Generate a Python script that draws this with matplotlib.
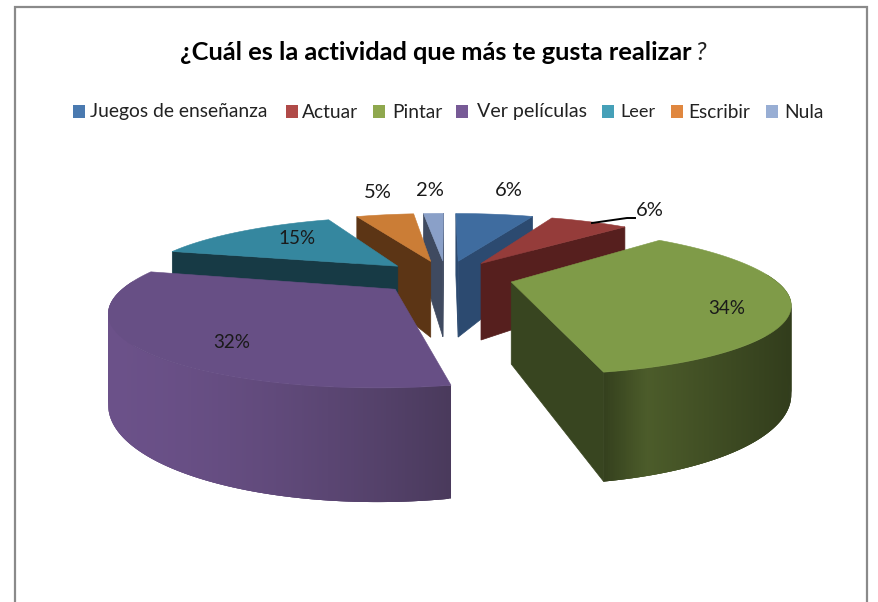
import numpy as np
import matplotlib
matplotlib.use("Agg")
import matplotlib.pyplot as plt
from matplotlib.collections import PolyCollection
from matplotlib.colors import to_rgb

categories = ["Juegos de enseñanza", "Actuar", "Pintar", "Ver películas", "Leer", "Escribir", "Nula"]
values = [6.2, 6.2, 34.4, 32.3, 14.7, 4.6, 1.6]
top_colors = ["#3f6c9f", "#953c3a", "#7f9b48", "#674f85", "#35879f", "#cb7d36", "#8aa0c8"]
cut_colors = ["#2c4a70", "#561f1e", "#384520", "#4a3a5e", "#173a45", "#5c3515", "#3f4a60"]
wall_dark = ["#2c4a70", "#561f1e", "#323d1c", "#4a3a5c", "#173a45", "#5c3515", "#3f4a60"]
wall_light = ["#2c4a70", "#561f1e", "#4c5c2a", "#6b5189", "#173a45", "#5c3515", "#3f4a60"]
legend_colors = ["#4a7ab0", "#b04a48", "#8fa84e", "#775a96", "#45a0b8", "#e0873f", "#98aed4"]
title_text = "¿Cuál es la actividad que más te gusta realizar"

FONT = "Lato"

fig = plt.figure(figsize=(8.79, 6.02), dpi=100, facecolor="white")
ax = fig.add_axes([0, 0, 1, 1])
ax.set_xlim(0, 879)
ax.set_ylim(602, 0)
ax.axis("off")

ax.plot([15, 15, 867, 867], [602, 7, 7, 602], color="#8a8a8a", lw=1.6, solid_joinstyle="miter")

# perspective
CX, CY, BX, AY, K, DEPTH, EXPL = 446, 277, 261, 66.6, 0.25, 80.6, 0.256


def proj(X, Y, low=False):
    s = 1 + K * Y
    return CX + BX * X / s, CY - AY * Y / s + (DEPTH / s if low else 0)


def lerp(a, b, t):
    a, b = np.array(to_rgb(a)), np.array(to_rgb(b))
    return tuple(a + (b - a) * t)


cum = np.concatenate([[0], np.cumsum(values)]) / np.sum(values) * 2 * np.pi
draw_order = [6, 5, 0, 4, 1, 3, 2]

for z, i in enumerate(draw_order):
    t0, t1 = cum[i], cum[i + 1]
    mid = (t0 + t1) / 2
    ox, oy = EXPL * np.sin(mid), EXPL * np.cos(mid)
    th = np.linspace(t0, t1, max(12, int((t1 - t0) * 160)))
    rx, ry = ox + np.sin(th), oy + np.cos(th)
    apex = np.array(proj(ox, oy))
    apex_low = np.array(proj(ox, oy, True))
    inner = np.array(proj(ox + .6 * np.sin(mid), oy + .6 * np.cos(mid)))
    # cut faces
    for tt in (t0, t1):
        e = np.array(proj(ox + np.sin(tt), oy + np.cos(tt)))
        el = np.array(proj(ox + np.sin(tt), oy + np.cos(tt), True))
        d = e - apex
        side_in = d[0] * (inner - apex)[1] - d[1] * (inner - apex)[0]
        side_dn = d[0] * 1.0
        if side_in * side_dn < 0:
            ax.fill([apex[0], e[0], el[0], apex_low[0]], [apex[1], e[1], el[1], apex_low[1]],
                    color=cut_colors[i], lw=0.5, zorder=10 + z * 3)
    # outer wall (overlapping strips, drawn in order, avoid seams)
    quads, cols = [], []
    n = len(th)
    for a in range(n - 1):
        b = min(a + 3, n - 1)
        if np.cos(th[a]) > 0.1 and np.cos(th[b]) > 0.1:
            continue
        p = [proj(rx[a], ry[a]), proj(rx[b], ry[b]), proj(rx[b], ry[b], True), proj(rx[a], ry[a], True)]
        quads.append(p)
        xm = p[0][0]
        if i == 2:
            u = np.clip((xm - 600) / 190, 0, 1)
            t = 1 - abs(u - 0.25) / 0.75 if u > .25 else u / .25
        elif i == 3:
            t = 1 - np.clip((xm - 107) / 344, 0, 1) ** 1.6
        else:
            t = 0
        cols.append(lerp(wall_dark[i], wall_light[i], t))
    if quads:
        ax.add_collection(PolyCollection(quads, facecolors=cols, edgecolors="none", linewidths=0, zorder=11 + z * 3))
    # top
    px, py = proj(rx, ry)
    ax.fill(np.r_[apex[0], px], np.r_[apex[1], py], color=top_colors[i], lw=0.4, zorder=12 + z * 3)


renderer = fig.canvas.get_renderer()


def fit(artist, width):
    artist.set_fontsize(10)
    w = artist.get_window_extent(renderer).width
    artist.set_fontsize(10 * width / w)


# data labels
label_xy = [(509, 191), (650, 210), (727, 308), (232, 342), (297, 239), (378, 193), (430, 191)]
for v, (x, y) in zip(values, label_xy):
    t = ax.text(x, y, f"{v:.0f}%", ha="center", va="center", family=FONT, color="#1a1a1a", zorder=60)
    fit(t, 28 if v < 10 else 37)
ax.plot([592, 627, 635], [223, 218, 218], color="black", lw=1.4, zorder=61)

# title
t = ax.text(180, 53, title_text, ha="left", va="center", family=FONT, weight="bold", color="black")
fit(t, 514)
ax.text(696, 53, "?", ha="left", va="center", fontsize=t.get_fontsize(), family=FONT, style="italic", color="#222222")

# legend
swatch_x = [73, 286, 373, 456, 602, 671, 766]
text_x = [90, 302, 392, 477, 620, 688, 784]
text_w = [178, 56, 50, 110, 35, 62, 39]
for c, col, sx, tx, tw in zip(categories, legend_colors, swatch_x, text_x, text_w):
    ax.fill([sx, sx + 12, sx + 12, sx], [105, 105, 118, 118], color=col, lw=0)
    t = ax.text(tx, 112, c, ha="left", va="center", family=FONT, color="#222222")
    fit(t, tw)

fig.savefig("out.png", dpi=100, facecolor="white")
